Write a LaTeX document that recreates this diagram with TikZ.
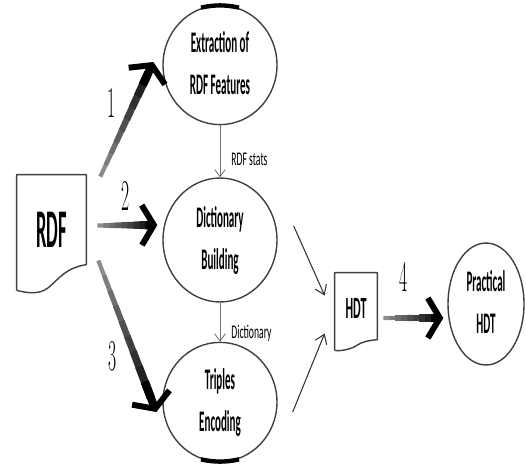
\documentclass[tikz,border=0pt]{standalone}
\usepackage{fontspec}
\newfontfamily\lblfont{Carlito}
\usetikzlibrary{arrows.meta,calc,shapes.geometric}
\newcommand{\squeeze}[2]{\scalebox{#1}[1]{\begin{tabular}{@{}c@{}}#2\end{tabular}}}
\tikzset{
  stage/.style={ellipse, draw=black!75, line width=0.8pt, inner sep=0pt,
    font=\lblfont\bfseries\fontsize{17}{24}\selectfont},
  doc/.style={inner sep=0pt},
  docline/.style={draw=black!75, line width=0.8pt, line join=round},
  numlbl/.style={inner sep=0pt, font=\fontsize{25}{25}\selectfont},
  smalllbl/.style={inner sep=0pt, anchor=west, font=\lblfont\fontsize{11}{13}\selectfont},
  flowhead/.style={line width=4.6pt, black, -{Straight Barb[length=0.24cm, width=0.8cm, line width=3.4pt]}},
  thin/.style={draw=black!80, line width=0.6pt, -{Straight Barb[length=5pt, width=7pt]}},
  statsarrow/.style={draw=black!55, line width=0.5pt, -{Straight Barb[length=4pt, width=6pt]}}
}
\begin{document}
\begin{tikzpicture}[x=0.02cm, y=-0.02cm]
\useasboundingbox (0,0) rectangle (526,466);
% documents
\node[doc, minimum width=1.38cm, minimum height=2.3cm] (rdf) at (51.5,232.5)
  {\squeeze{0.34}{\lblfont\bfseries\fontsize{31}{36}\selectfont RDF}};
\draw[docline] (rdf.south west) -- (rdf.north west) -- (rdf.north east) -- ++(0,90)
  .. controls +(-21,3) and +(10,-8) .. ++(-38,23)
  .. controls +(-10,8) and +(8,2) .. (rdf.south west);
\node[doc, minimum width=0.84cm, minimum height=1.54cm] (hdt) at (356,311.5)
  {\squeeze{0.39}{\lblfont\bfseries\fontsize{17.6}{20}\selectfont HDT}};
\draw[docline] (hdt.south west) -- (hdt.north west) -- (hdt.north east) -- ++(0,67)
  .. controls +(-10,1) and +(6,-4) .. ++(-21,6)
  .. controls +(-6,4) and +(5,1) .. (hdt.south west);
% stages
\node[stage, minimum width=2.28cm, minimum height=2.2cm] (ext) at (220,65)
  {\squeeze{0.37}{Extraction of\\RDF Features}};
\node[stage, minimum width=2.28cm, minimum height=2.48cm] (dict) at (220,240)
  {\squeeze{0.37}{Dictionary\\Building}};
\node[stage, minimum width=2.28cm, minimum height=2.28cm] (trip) at (220,402)
  {\squeeze{0.37}{Triples\\Encoding}};
\node[stage, minimum width=1.52cm, minimum height=2.44cm] (prac) at (486,304)
  {\squeeze{0.37}{Practical\\HDT}};
\draw[line width=2.5pt] ($(ext.north)+(-19,3)$) .. controls ($(ext.north)+(-6,0)$) and ($(ext.north)+(6,0)$) .. ($(ext.north)+(19,3)$);
\draw[line width=2.5pt] ($(trip.south)+(-19,-3)$) .. controls ($(trip.south)+(-6,0)$) and ($(trip.south)+(6,0)$) .. ($(trip.south)+(19,-3)$);
% ends of the thick arrows
\coordinate (a1s) at ($(rdf.north east)+(14,2)$);
\coordinate (a1e) at ($(ext.west)+(-9,-3)$);
\coordinate (a2s) at ($(rdf.east)+(11,-7)$);
\coordinate (a2e) at ($(dict.west)+(-5,-15)$);
\coordinate (a3s) at ($(rdf.east)+(12,28)$);
\coordinate (a3e) at ($(trip.west)+(-6,10)$);
\coordinate (a4s) at ($(hdt.east)+(6,6.5)$);
\coordinate (a4e) at ($(prac.west)+(-4,14)$);
\foreach \a/\b in {a1s/a1e, a2s/a2e, a3s/a3e, a4s/a4e} {
  \foreach \i [evaluate=\i as \c using int(45+6*\i), evaluate=\i as \w using 2.4+0.3*\i] in {0,...,8}
    \draw[line width=\w pt, black!\c] ($(\a)!{\i/10}!(\b)$) -- ($(\a)!{(\i+1.1)/10}!(\b)$);
  \draw[flowhead] ($(\a)!0.8!(\b)$) -- (\b);
}
\node[numlbl] (n1) at (112,103) {\scalebox{0.4}[1]{1}};
\node[numlbl] (n2) at (126,196) {\scalebox{0.4}[1]{2}};
\node[numlbl] (n3) at (113,356) {\scalebox{0.4}[1]{3}};
\node[numlbl] (n4) at (404,277) {\scalebox{0.4}[1]{4}};
% thin arrows
\draw[statsarrow] (ext.south) -- (dict.north);
\draw[statsarrow] (dict.south) -- (trip.north);
\node[smalllbl] (stats) at (231,159) {\scalebox{0.5}[1]{RDF stats}};
\node[smalllbl] (dictlbl) at (231,333) {\scalebox{0.5}[1]{Dictionary}};
\coordinate (t1s) at ($(dict.east)+(16,-14)$);
\coordinate (t1e) at ($(hdt.west)+(-10,-16)$);
\coordinate (t2s) at ($(trip.east)+(15,10)$);
\coordinate (t2e) at ($(hdt.west)+(-10,22)$);
\draw[thin] (t1s) -- (t1e);
\draw[thin] (t2s) -- (t2e);
\end{tikzpicture}
\end{document}
